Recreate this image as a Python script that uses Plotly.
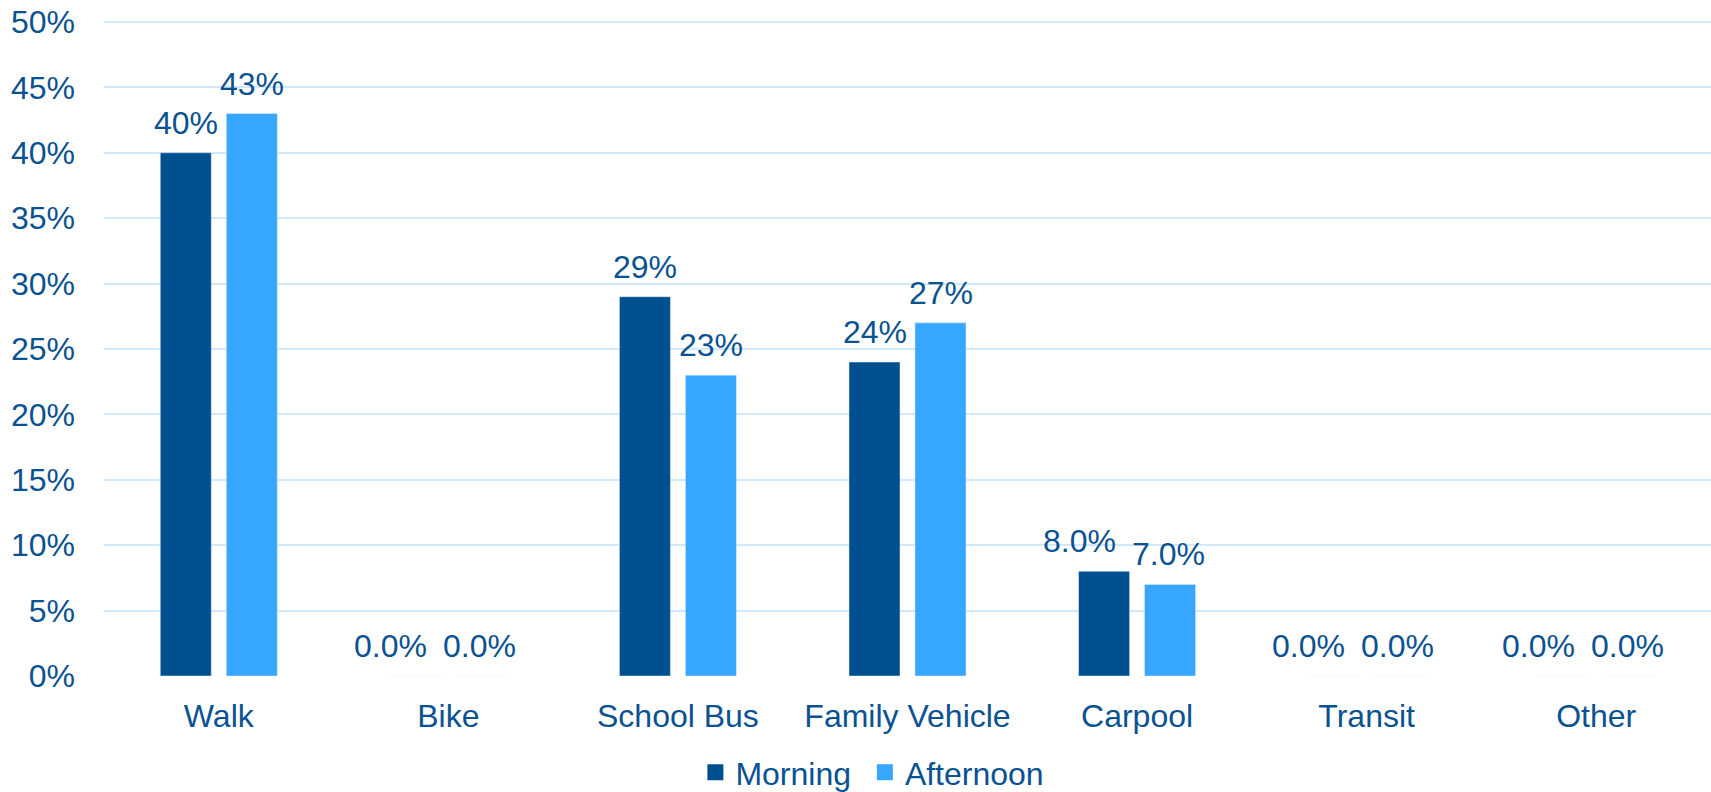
import plotly.graph_objects as go

categories = ["Walk", "Bike", "School Bus", "Family Vehicle", "Carpool", "Transit", "Other"]
morning = [40, 0, 29, 24, 8, 0, 0]
afternoon = [43, 0, 23, 27, 7, 0, 0]
morning_labels = ["40%", "0.0%", "29%", "24%", "8.0%", "0.0%", "0.0%"]
afternoon_labels = ["43%", "0.0%", "23%", "27%", "7.0%", "0.0%", "0.0%"]
y_ticks = [0, 5, 10, 15, 20, 25, 30, 35, 40, 45, 50]
y_ticktext = [f"{v}%" for v in y_ticks]

C_MORN = "#00508F"
C_AFT = "#36A6FF"
C_TEXT = "#0A5292"
C_GRID = "#D2E8FB"
FONT = "Liberation Sans, Arial, sans-serif"
FS = 32

W, H = 1711, 792
M_L, M_R, M_T, M_B = 104, 0, 20, 116
# a hair above 50 so the 50% gridline is drawn inside the plot area
Y_TOP = 50.15

BARGAP = 0.425
BARGROUPGAP = 0.227
off = (1 - BARGAP) / 4

# approximate Arial advance widths (em) for label collision handling
_CW = {".": 0.278, "%": 0.889}
def text_w(s):
    return sum(_CW.get(c, 0.556) for c in s) * FS

cat_px = (W - M_L - M_R) / len(categories)
unit_px = (H - M_T - M_B) / Y_TOP
sep_px = 2 * off * cat_px

fig = go.Figure()
fig.add_trace(go.Bar(x=categories, y=morning, name="Morning", marker_color=C_MORN,
                     showlegend=False))
fig.add_trace(go.Bar(x=categories, y=afternoon, name="Afternoon", marker_color=C_AFT,
                     showlegend=False))
# legend entries with larger square swatches
fig.add_trace(go.Scatter(x=[None], y=[None], mode="markers", name="Morning\u00a0",
                         marker=dict(symbol="square", size=16, color=C_MORN)))
fig.add_trace(go.Scatter(x=[None], y=[None], mode="markers", name="Afternoon",
                         marker=dict(symbol="square", size=16, color=C_AFT)))

annotations = []
for i, (vm, va, lm, la) in enumerate(zip(morning, afternoon, morning_labels, afternoon_labels)):
    shift_m, shift_a = 0, 0
    overlap = (text_w(lm) + text_w(la)) / 2 - sep_px
    if abs(vm - va) * unit_px < FS and overlap > -16:
        shift_m = -(overlap + 18)
        shift_a = -2
    annotations.append(dict(x=i - off, y=vm, xref="x", yref="y", text=lm, showarrow=False,
                            yanchor="bottom", xanchor="center", yshift=10, xshift=shift_m,
                            font=dict(family=FONT, size=FS, color=C_TEXT)))
    annotations.append(dict(x=i + off, y=va, xref="x", yref="y", text=la, showarrow=False,
                            yanchor="bottom", xanchor="center", yshift=10, xshift=shift_a,
                            font=dict(family=FONT, size=FS, color=C_TEXT)))

fig.update_layout(
    width=W, height=H,
    margin=dict(l=M_L, r=M_R, t=M_T, b=M_B, autoexpand=False),
    paper_bgcolor="white", plot_bgcolor="white",
    barmode="group", bargap=BARGAP, bargroupgap=BARGROUPGAP,
    font=dict(family=FONT, size=FS, color=C_TEXT),
    showlegend=True,
    legend=dict(orientation="h", x=0.368, xanchor="left", y=-0.147, yanchor="middle",
                font=dict(family=FONT, size=FS, color=C_TEXT), itemclick=False,
                bgcolor="rgba(0,0,0,0)"),
    annotations=annotations,
    xaxis=dict(type="category", showgrid=False, showline=False, zeroline=False, ticks="",
               ticklabelstandoff=18, tickfont=dict(family=FONT, size=FS, color=C_TEXT),
               fixedrange=True, automargin=False),
    yaxis=dict(range=[0, Y_TOP], tickvals=y_ticks, ticktext=y_ticktext, showgrid=True,
               gridcolor=C_GRID, gridwidth=2, zeroline=False, showline=False, ticks="",
               ticklabelstandoff=28, tickfont=dict(family=FONT, size=FS, color=C_TEXT),
               fixedrange=True, automargin=False),
)

fig.write_html("out.html", config={"displayModeBar": False},
               post_script="document.body.style.margin='0';document.body.style.overflow='hidden';")
